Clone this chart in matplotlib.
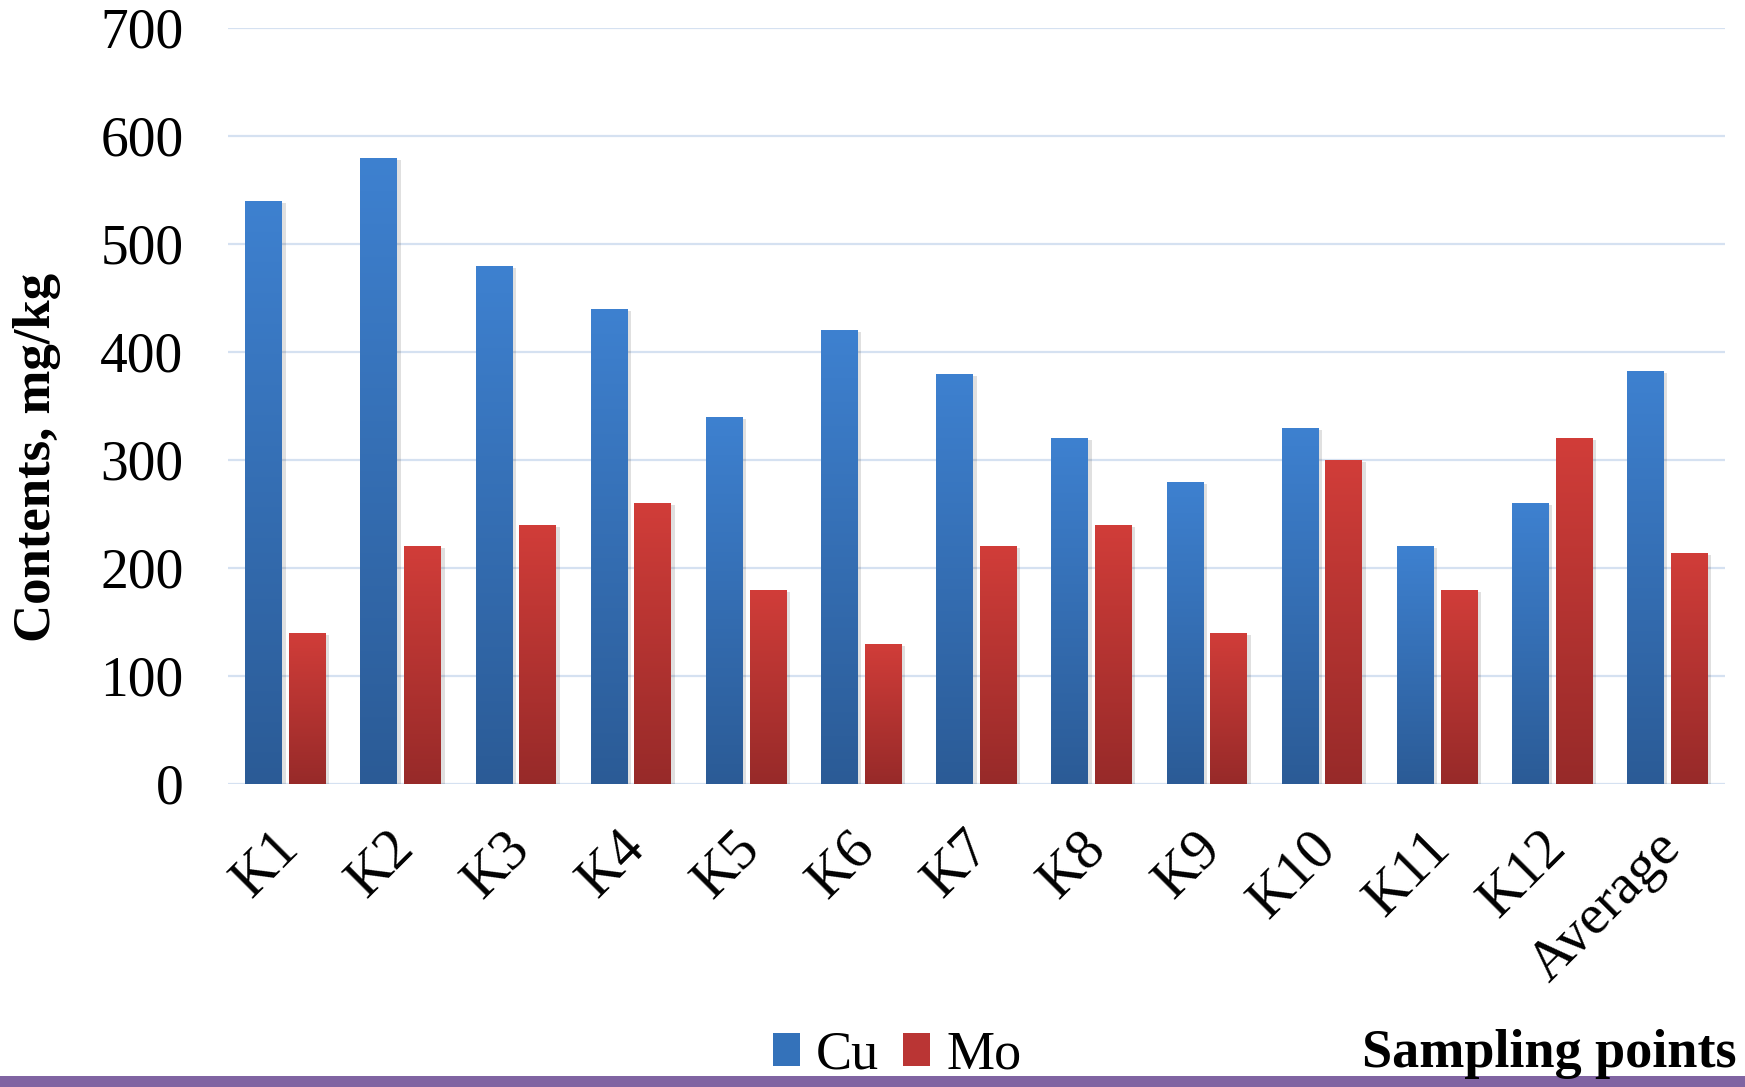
import numpy as np
import matplotlib
matplotlib.use("Agg")
import matplotlib.pyplot as plt
from matplotlib.patches import Rectangle, Patch
from matplotlib.colors import LinearSegmentedColormap
import matplotlib.patheffects as pe
import matplotlib.transforms as mtransforms

categories = ["K1", "K2", "K3", "K4", "K5", "K6", "K7", "K8", "K9", "K10", "K11", "K12", "Average"]
cu = [540, 580, 480, 440, 340, 420, 380, 320, 280, 330, 220, 260, 382.5]
mo = [140, 220, 240, 260, 180, 130, 220, 240, 140, 300, 180, 320, 214.2]
yticks = [0, 100, 200, 300, 400, 500, 600, 700]

plt.rcParams['font.family'] = ['Liberation Serif', 'DejaVu Serif']

fig = plt.figure(figsize=(17.45, 10.87), dpi=100)
ax = fig.add_axes([228/1745, 1 - 784/1087, (1725-228)/1745, (784-28)/1087])

x = np.arange(len(categories))
w = 0.32
off = 0.19
blue_top, blue_bot = "#3E81D0", "#2B5B96"
red_top, red_bot = "#D13D39", "#972A29"

bars_cu = ax.bar(x - off, cu, w, color=blue_top, zorder=3)
bars_mo = ax.bar(x + off, mo, w, color=red_top, zorder=3)

shadow = [pe.SimplePatchShadow(offset=(2.5, -1.5), shadow_rgbFace="#000000", alpha=0.12), pe.Normal()]

def grad_fill(bars, top, bot):
    cmap = LinearSegmentedColormap.from_list("g", [bot, top])
    g = np.linspace(0, 1, 256).reshape(-1, 1)
    for b in bars:
        b.set_path_effects(shadow)
        x0, y0 = b.get_x(), b.get_y()
        im = ax.imshow(g, cmap=cmap, extent=[x0, x0 + b.get_width(), y0, y0 + b.get_height()],
                       origin='lower', aspect='auto', zorder=3.5, interpolation='bilinear')
        im.set_clip_path(b)

grad_fill(bars_cu, blue_top, blue_bot)
grad_fill(bars_mo, red_top, red_bot)

ax.set_xlim(-0.5, len(categories) - 0.5)
ax.set_ylim(0, 700)
ax.set_yticks(yticks)
ax.set_yticklabels([str(v) for v in yticks], fontsize=40)
ax.yaxis.grid(True, color="#D5E1F1", linewidth=1.6, zorder=0)
ax.set_axisbelow(True)
for s in ax.spines.values():
    s.set_visible(False)
ax.tick_params(axis='y', length=0, pad=32)
ax.tick_params(axis='x', length=0, pad=38)
ax.set_xticks(x)
ax.set_xticklabels(categories, fontsize=41, rotation=45, ha='right', va='top', rotation_mode='anchor')
shift = mtransforms.ScaledTranslation(-13/100, 15/100, fig.dpi_scale_trans)
for lab in ax.get_xticklabels():
    lab.set_transform(lab.get_transform() + shift)

fig.text(0.021, 1 - 457/1087, "Contents, mg/kg", rotation=90, fontsize=38, fontweight='bold',
         ha='center', va='center')
fig.text(1737/1745, 1 - 1067/1087, "Sampling points", fontsize=39, fontweight='bold',
         ha='right', va='baseline')

# purple bottom band
fig.patches.append(Rectangle((0, 0), 1, 11/1087, transform=fig.transFigure,
                             facecolor="#8064A2", edgecolor='none', zorder=0))

handles = [Patch(facecolor="#3472BA", edgecolor='none'), Patch(facecolor="#BA3534", edgecolor='none')]
fig.legend(handles, ["Cu", "Mo"], loc='lower left', bbox_to_anchor=(740/1745, -26/1087),
           ncol=2, frameon=False, fontsize=39, handlelength=0.5, handleheight=0.55,
           handletextpad=0.3, columnspacing=0.45, borderpad=0.1)

fig.savefig("out.png", dpi=100)
